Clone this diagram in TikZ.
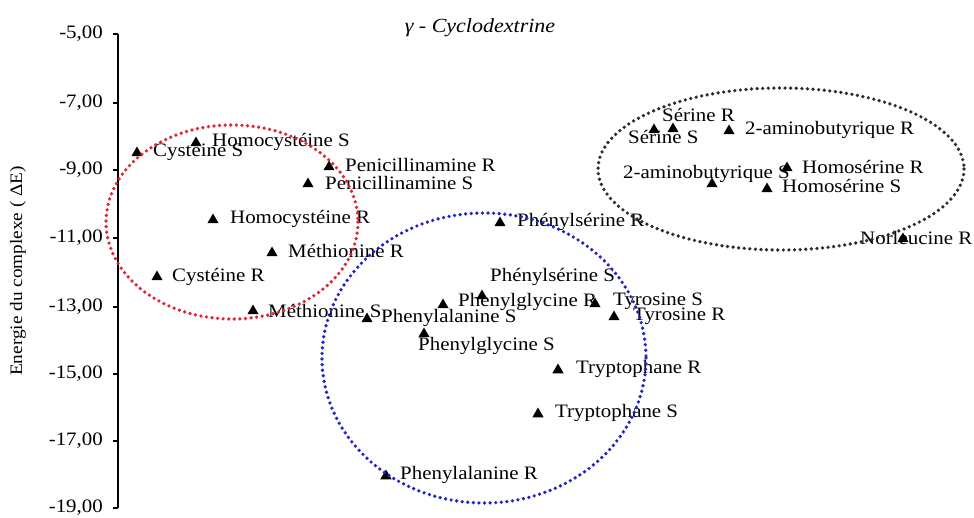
\documentclass[tikz,border=0pt]{standalone}
\usepackage{fontspec}
\setmainfont[FakeStretch=1.1]{Liberation Serif}
\usetikzlibrary{shapes.geometric}
\definecolor{cred}{RGB}{222,40,52}
\definecolor{cblue}{RGB}{36,36,196}
\definecolor{cgrey}{RGB}{45,45,45}
\begin{document}
\begin{tikzpicture}[x=1pt,y=-1pt,
  mk/.style={regular polygon, regular polygon sides=3, fill=black, draw=none, inner sep=0pt, minimum size=13pt},
  lbl/.style={anchor=west, inner sep=0pt, font=\fontsize{19}{21}\selectfont},
  tick/.style={anchor=east, inner sep=0pt, font=\fontsize{19}{21}\selectfont},
  grp/.style={line width=3.7pt, dash pattern=on 0pt off 5.6pt, line cap=round}
]
\useasboundingbox (0,0) rectangle (974,518);
% axis
\coordinate (atop) at (118,34);
\coordinate (abot) at (118,508);
\draw[line width=1.1pt] (atop) -- (abot);
\foreach \v/\y in {-5/34,-7/103,-9/170,-11/238,-13/307,-15/374,-17/441,-19/508}{
  \draw[line width=1.1pt] (113,\y) -- (118,\y);
  \node[tick] (t\v) at (103,\y) {\pgfmathparse{int(\v)}\pgfmathresult,00};
}
\node[font=\fontsize{20}{22}\selectfont\itshape] (title) at (480,28) {γ - Cyclodextrine};
\node[rotate=90, font=\fontsize{17.5}{20}\selectfont] (ylab) at (18,271) {Energie du complexe ( ΔE)};
% markers
\node[mk] (m1) at (137,153) {};  \node[lbl] (l1) at (153,152) {Cystéine S};
\node[mk] (m2) at (196,143) {};  \node[lbl] (l2) at (212,142) {Homocystéine S};
\node[mk] (m3) at (329,167) {};  \node[lbl] (l3) at (345,165) {Penicillinamine R};
\node[mk] (m4) at (308,184) {};  \node[lbl] (l4) at (325,183) {Penicillinamine S};
\node[mk] (m5) at (213,220) {};  \node[lbl] (l5) at (230,219) {Homocystéine R};
\node[mk] (m6) at (272,253) {};  \node[lbl] (l6) at (288,251) {Méthionine R};
\node[mk] (m7) at (157,277) {};  \node[lbl] (l7) at (172,277) {Cystéine R};
\node[mk] (m8) at (253,311) {};  \node[lbl] (l8) at (268,311) {Méthionine S};
\node[mk] (m9) at (367,319) {};  \node[lbl] (l9) at (381,318) {Phenylalanine S};
\node[mk] (m10) at (424,334) {}; \node[lbl] (l10) at (418,346) {Phenylglycine S};
\node[mk] (m11) at (443,305) {}; \node[lbl] (l11) at (458,302) {Phenylglycine R};
\node[mk] (m12) at (482,296) {}; \node[lbl] (l12) at (490,277) {Phénylsérine S};
\node[mk] (m13) at (595,304) {}; \node[lbl] (l13) at (613,301) {Tyrosine S};
\node[mk] (m14) at (614,317) {}; \node[lbl] (l14) at (633,316) {Tyrosine R};
\node[mk] (m15) at (500,223) {}; \node[lbl] (l15) at (517,222) {Phénylsérine R};
\node[mk] (m16) at (558,370) {}; \node[lbl] (l16) at (576,369) {Tryptophane R};
\node[mk] (m17) at (538,414) {}; \node[lbl] (l17) at (555,413) {Tryptophane S};
\node[mk] (m18) at (386,476) {}; \node[lbl] (l18) at (400,475) {Phenylalanine R};
\node[mk] (m19) at (654,130) {}; \node[lbl] (l19) at (628,137) {Sérine S};
\node[mk] (m20) at (673,129) {}; \node[lbl] (l20) at (662,115) {Sérine R};
\node[mk] (m21) at (729,131) {}; \node[lbl] (l21) at (745,130) {2-aminobutyrique R};
\node[mk] (m22) at (787,168) {}; \node[lbl] (l22) at (802,167) {Homosérine R};
\node[mk] (m23) at (712,184) {}; \node[lbl] (l23) at (623,174) {2-aminobutyrique S};
\node[mk] (m24) at (767,189) {}; \node[lbl] (l24) at (782,186) {Homosérine S};
\node[mk] (m25) at (903,239) {}; \node[lbl] (l25) at (860,238) {Norleucine R};
% groups
\draw[grp, cred] (232,222) ellipse [x radius=126, y radius=97];
\draw[grp, cblue] (484,358) ellipse [x radius=162, y radius=145];
\draw[grp, cgrey] (781,169) ellipse [x radius=183, y radius=81];
\end{tikzpicture}
\end{document}
